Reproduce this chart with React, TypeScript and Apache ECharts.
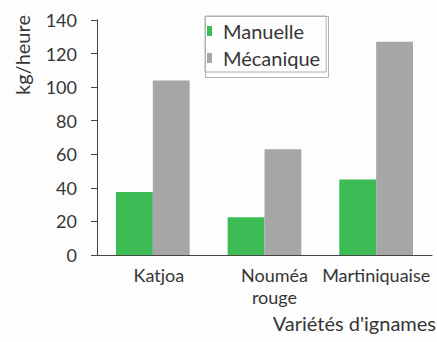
import React, { useEffect, useRef } from "react";
import * as echarts from "echarts";

const categories = ["Katjoa", "Nouméa\nrouge", "Martiniquaise"];
const manuelle = [37.5, 22.5, 45];
const mecanique = [104, 63, 127];
const seriesNames = ["Manuelle", "Mécanique"];
const yAxisName = "kg/heure";
const xAxisName = "Variétés d'ignames";

const FONT = "Lato, 'Open Sans', sans-serif";
const TEXT = "#363636";

export default function App() {
  const ref = useRef<HTMLDivElement>(null);
  useEffect(() => {
    if (!ref.current) return;
    const chart = echarts.init(ref.current, null, { renderer: "svg" });
    chart.setOption({
      animation: false,
      backgroundColor: "#fdfdfd",
      textStyle: { fontFamily: FONT },
      grid: { left: 97, right: 5, top: 20, bottom: 87 },
      legend: {
        orient: "vertical",
        left: 205,
        top: 16,
        padding: [5, 6, 4, 2],
        borderColor: "#b0b0b0",
        borderWidth: 1,
        itemWidth: 5,
        itemHeight: 10,
        itemGap: 7,
        icon: "rect",
        textStyle: { fontFamily: FONT, fontSize: 20, color: TEXT, padding: [0, 0, 0, 6] },
        data: seriesNames,
      },
      xAxis: {
        type: "category",
        data: categories.map((c, i) => ({
          value: c,
          textStyle: { padding: i === 0 ? [0, 0, 0, 12] : i === 1 ? [0, 0, 0, 20] : [0, 0, 0, 0] },
        })),
        axisLine: { lineStyle: { color: "#444", width: 1 } },
        axisTick: { length: 4, lineStyle: { color: "#444" } },
        axisLabel: {
          interval: 0,
          fontFamily: FONT,
          fontSize: 18,
          color: TEXT,
          margin: 9,
          lineHeight: 22,
        },
      },
      yAxis: {
        type: "value",
        min: 0,
        max: 140,
        interval: 20,
        splitLine: { show: false },
        axisLine: { show: true, lineStyle: { color: "#444", width: 1 } },
        axisTick: { show: true, length: 6, lineStyle: { color: "#444" } },
        axisLabel: { fontFamily: FONT, fontSize: 18, color: TEXT, margin: 20 },
      },
      graphic: [
        {
          type: "polyline",
          z: 100,
          shape: {
            points: [
              [205.5, 16.5],
              [328.5, 16.5],
              [328.5, 77.5],
              [205.5, 77.5],
              [205.5, 16.5],
            ],
          },
          style: { fill: null, stroke: "#b0b0b0", lineWidth: 1 },
        },
        {
          type: "text",
          x: 22,
          y: 55,
          rotation: Math.PI / 2,
          style: {
            text: yAxisName,
            fontFamily: FONT,
            fontSize: 20,
            fill: TEXT,
            align: "center",
            verticalAlign: "middle",
          },
        },
        {
          type: "text",
          x: 436,
          y: 323,
          style: {
            text: xAxisName,
            fontFamily: FONT,
            fontSize: 20,
            fill: TEXT,
            align: "right",
            verticalAlign: "middle",
          },
        },
      ],
      series: [
        {
          name: seriesNames[0],
          type: "bar",
          data: manuelle,
          barGap: 0,
          barCategoryGap: "34%",
          itemStyle: { color: "#3dbb55" },
        },
        {
          name: seriesNames[1],
          type: "bar",
          data: mecanique,
          itemStyle: { color: "#a6a6a6" },
        },
      ],
    });
    return () => chart.dispose();
  }, []);
  return <div ref={ref} style={{ width: 437, height: 342, position: "absolute", left: 0, top: 0 }} />;
}
